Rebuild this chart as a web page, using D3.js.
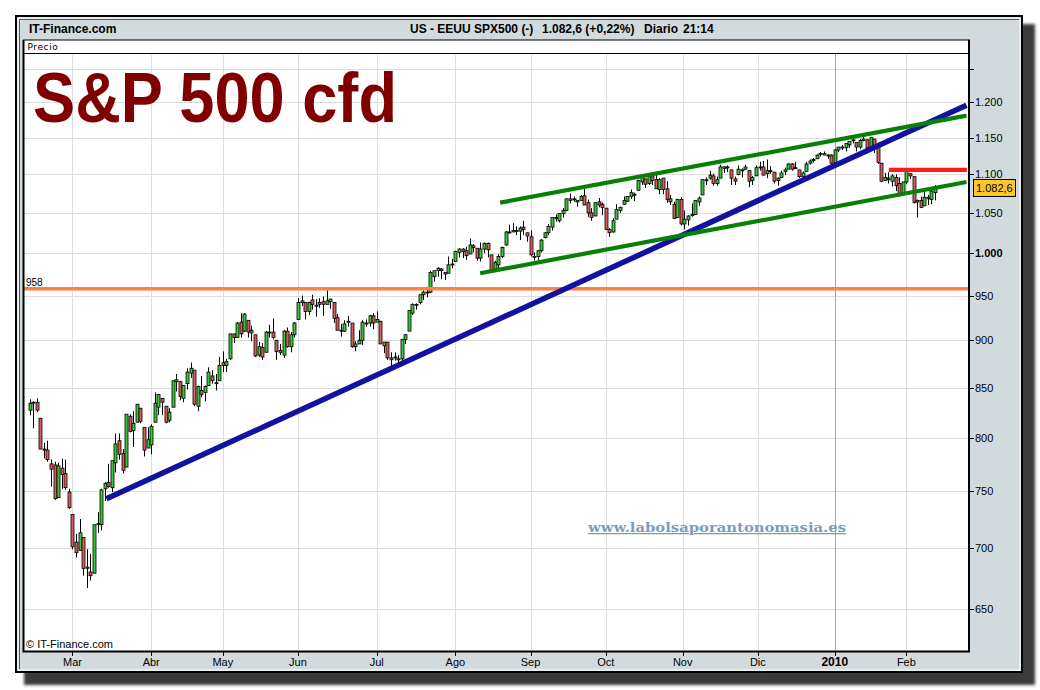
<!DOCTYPE html>
<html><head><meta charset="utf-8">
<script src="https://cdn.jsdelivr.net/npm/d3@7"></script>
<style>body{margin:0;background:#fff;}svg{display:block;font-family:Arial,"Liberation Sans",sans-serif;}</style>
</head><body>
<svg id="chart" width="1040" height="690"></svg>
<script>
// Daily candles, 11 Feb 2009 -> 12 Feb 2010 (one entry per trading bar)
const opens=[
827,834,835,819,789,788,775,774,744,771,766,749,
729,705,698,709,684,680,679,720,720,752,758,753,776,797,785,772,821,807,815,829,810,790,
793,815,830,839,831,817,830,856,856,839,854,865,868,831,847,845,852,862,854,857,876,
873,880,907,903,920,910,922,911,906,884,892,887,909,909,900,889,884,910,893,906,
923,942,942,932,945,938,940,943,940,943,942,925,911,910,920,919,893,896,900,919,919,927,
920,921,894,898,881,881,880,880,901,910,930,940,942,951,953,954,972,979,981,977,976,986,
990,1001,1005,1003,999,1009,1006,994,1005,1012,998,980,986,996,1010,1026,1026,1027,1027,1032,1025,
1020,996,996,1003,1019,1025,1032,1044,1040,1049,1053,1068,1067,1066,1066,1072,1063,1050,1046,1064,1061,
1056,1029,1026,1042,1053,1061,1065,1071,1074,1079,1090,1094,1088,1098,1093,1080,1095,1081,1068,1061,1044,1067,
1036,1041,1048,1048,1064,1073,1092,1095,1098,1088,1095,1108,1109,1106,1094,1100,1106,1107,1105,1092,
1098,1109,1110,1101,1105,1103,1092,1096,1104,1107,1114,1108,1106,1097,1104,1115,1119,1121,1128,1128,1125,1126,
1116,1133,1136,1136,1140,1146,1143,1137,1146,1147,1136,1148,1138,1115,1092,1095,1091,1096,1088,
1074,1090,1101,1097,1064,1066,1059,1070,1067,1076];
const highs=[
838,836,839,819,795,797,779,777,776,780,779,752,
729,712,725,709,699,695,720,731,752,758,775,778,804,804,789,823,823,826,833,829,810,810,
813,845,843,839,831,829,856,864,857,852,870,876,868,852,862,852,871,868,864,882,888,
880,907,907,920,930,930,922,916,906,898,897,910,917,924,900,896,911,914,909,920,
947,950,942,943,951,946,947,949,956,946,942,929,918,922,927,919,899,911,922,923,928,930,
932,921,898,898,887,887,884,901,907,933,941,941,951,956,960,979,979,983,982,977,996,993,
1003,1006,1006,1008,1018,1011,1006,1013,1013,1013,998,991,999,1008,1027,1035,1037,1033,1033,1040,1025,
1028,1001,1003,1017,1026,1036,1044,1048,1049,1056,1068,1075,1071,1066,1073,1081,1067,1056,1063,1069,1063,
1056,1031,1043,1061,1058,1071,1071,1080,1076,1093,1097,1094,1100,1099,1101,1095,1095,1091,1073,1064,1068,1070,
1053,1047,1062,1066,1071,1094,1096,1105,1101,1097,1113,1111,1112,1106,1097,1112,1108,1113,1105,1098,
1112,1117,1118,1120,1111,1103,1096,1105,1109,1115,1115,1117,1106,1104,1117,1120,1122,1127,1130,1131,1127,1127,
1134,1137,1140,1142,1145,1150,1143,1148,1151,1148,1151,1148,1142,1115,1102,1103,1100,1100,1096,
1090,1104,1102,1097,1067,1071,1080,1073,1081,1086];
const lows=[
822,809,825,789,780,777,754,742,744,752,751,734,
699,692,698,677,667,673,679,713,715,741,753,749,767,779,766,772,805,791,815,814,782,790,
784,815,822,822,814,815,830,846,837,835,848,860,831,826,840,836,852,854,847,857,866,
866,879,897,903,903,909,903,899,882,882,879,887,903,901,879,884,881,892,887,903,
923,938,923,928,934,926,936,927,940,935,919,911,904,909,915,892,888,896,895,915,915,912,
920,896,886,879,869,878,872,875,896,910,928,934,940,945,948,953,966,972,969,968,976,982,
990,995,994,992,999,1001,991,990,1000,995,978,980,981,994,1009,1024,1026,1022,1016,1022,1014,
996,991,991,1001,1018,1022,1028,1039,1038,1044,1052,1062,1064,1058,1066,1060,1045,1040,1046,1057,1047,
1029,1020,1025,1042,1050,1060,1064,1068,1065,1079,1086,1082,1086,1086,1081,1074,1074,1063,1060,1042,1044,1034,
1029,1034,1045,1048,1059,1073,1086,1093,1085,1085,1095,1102,1103,1086,1086,1099,1096,1106,1083,1086,
1098,1105,1099,1095,1101,1088,1085,1096,1099,1107,1105,1107,1095,1095,1104,1113,1116,1121,1124,1126,1121,1114,
1116,1130,1133,1131,1136,1142,1131,1134,1145,1130,1136,1129,1114,1090,1092,1088,1084,1078,1071,
1074,1087,1094,1062,1044,1056,1059,1060,1061,1066];
const closes=[
834,835,827,789,788,779,770,743,773,765,753,735,
701,696,713,683,683,677,720,721,751,757,754,778,794,784,769,823,806,814,833,816,788,798,
811,834,843,835,815,825,857,858,841,852,866,870,833,851,843,851,866,857,855,873,873,
877,907,903,919,907,929,909,908,883,893,882,909,908,903,888,887,910,893,906,919,
942,944,932,942,940,939,942,940,944,946,924,911,911,918,921,893,896,900,920,918,927,919,
923,896,898,881,879,882,879,901,906,933,940,940,951,954,954,977,979,982,979,975,986,987,
1002,1005,1002,997,1010,1007,994,1005,1012,1004,979,989,996,1007,1026,1025,1028,1028,1031,1029,1021,
998,995,1003,1016,1025,1033,1044,1043,1049,1053,1068,1066,1068,1064,1071,1060,1050,1044,1063,1060,1057,
1029,1025,1040,1054,1057,1066,1071,1076,1073,1092,1096,1087,1098,1092,1081,1093,1080,1067,1064,1043,1067,1036,
1042,1046,1047,1066,1069,1093,1093,1099,1088,1093,1110,1110,1110,1095,1091,1107,1105,1110,1091,1096,
1109,1110,1099,1105,1104,1091,1095,1102,1106,1114,1107,1109,1097,1102,1114,1118,1120,1126,1128,1126,1126,1115,
1133,1137,1137,1142,1145,1147,1137,1146,1148,1136,1150,1138,1116,1091,1096,1093,1098,1085,1074,
1090,1104,1098,1063,1066,1057,1070,1068,1078,1082.6];

const monthLabels=["Mar","Abr","May","Jun","Jul","Ago","Sep","Oct","Nov","Dic","2010","Feb"];
const monthTickIdx=[12,34,54,75,97,119,140,161,182.5,203.5,225,245];
const yTickValues=[1250,1200,1150,1100,1050,1000,950,900,850,800,750,700,650];
const supportLevel=958;
const blueTrend=[[21.5,743],[261.8,1196]];
const greenUpper=[[131.5,1063],[261.8,1181]];
const greenLower=[[125.9,976],[261.8,1090]];
const redLevel=[[240.1,1106],[261.9,1106]];
const lastPrice=1082.6;
const changeText="(+0,22%)";
const headerParts=["US - EEUU SPX500 (-)","Diario","21:14"];

const loc=d3.formatLocale({decimal:",",thousands:".",grouping:[3],currency:["",""]});
const fmtInt=loc.format(",");
const fmtPrice=loc.format(",.1f");

const svg=d3.select("#chart");
const defs=svg.append("defs");
defs.append("filter").attr("id","shadow").attr("x","-5%").attr("y","-5%").attr("width","110%").attr("height","110%")
  .append("feGaussianBlur").attr("stdDeviation",1.6);
defs.append("clipPath").attr("id","plotclip").append("rect").attr("x",24).attr("y",54).attr("width",944).attr("height",596);

// shadow + frame
svg.append("rect").attr("x",24).attr("y",24).attr("width",1011).attr("height",661).attr("fill","#3a3a3a").attr("filter","url(#shadow)");
svg.append("rect").attr("x",16).attr("y",16).attr("width",1006).attr("height",656).attr("fill","#d3dadd").attr("stroke","#000").attr("stroke-width",2);
svg.append("rect").attr("x",18).attr("y",18).attr("width",1002).attr("height",652).attr("fill","none").attr("stroke","#fff").attr("stroke-width",1);
svg.append("path").attr("d","M19.5,669 V19.5 H1019").attr("fill","none").attr("stroke","#555").attr("stroke-width",1);

// header
const hdr=svg.append("g").attr("font-weight","bold").attr("font-size",12).attr("fill","#000");
hdr.append("text").attr("x",29).attr("y",33).text("IT-Finance.com");
hdr.append("text").attr("x",410).attr("y",33).text(headerParts[0]);
hdr.append("text").attr("x",542).attr("y",33).text(fmtPrice(lastPrice)+" "+changeText);
hdr.append("text").attr("x",644).attr("y",33).text(headerParts[1]);
hdr.append("text").attr("x",683).attr("y",33).text(headerParts[2]);

// plot area
svg.append("rect").attr("x",23).attr("y",40).attr("width",946).attr("height",611).attr("fill","#fff");

const x=d3.scaleLinear().domain([0,closes.length-1]).range([29.5,935]);
const y=d3.scaleLog().domain([618,1274]).range([651,53]);

// grid
const grid=svg.append("g");
grid.selectAll("line.h").data(yTickValues).join("line")
  .attr("x1",23).attr("x2",969).attr("y1",d=>Math.round(y(d))+0.5).attr("y2",d=>Math.round(y(d))+0.5)
  .attr("stroke","#dcdcdc").attr("stroke-width",1);
grid.selectAll("line.v").data(monthTickIdx).join("line")
  .attr("x1",d=>Math.round(x(d))+0.5).attr("x2",d=>Math.round(x(d))+0.5).attr("y1",53).attr("y2",651)
  .attr("stroke",(d,i)=>monthLabels[i]==="2010"?"#a8a8a8":"#dcdcdc").attr("stroke-width",1);

svg.append("line").attr("x1",23).attr("x2",969).attr("y1",53.5).attr("y2",53.5).attr("stroke","#000");
svg.append("text").attr("x",27.5).attr("y",50).attr("font-size",9).attr("letter-spacing",0.6).attr("font-family","Verdana,'DejaVu Sans',sans-serif").text("Precio");

// watermark
svg.append("text").attr("x",588).attr("y",532).attr("font-family","'DejaVu Serif',serif").attr("font-weight","bold")
  .attr("font-size",13).attr("fill","#7d9bc0").attr("textLength",258).attr("lengthAdjust","spacingAndGlyphs")
  .attr("text-decoration","underline").text("www.labolsaporantonomasia.es");

// big title
svg.append("text").attr("x",33).attr("y",122).attr("font-size",70).attr("font-weight","bold").attr("fill","#800000")
  .attr("textLength",364).attr("lengthAdjust","spacingAndGlyphs").text("S&P 500 cfd");

const plot=svg.append("g").attr("clip-path","url(#plotclip)");

// candles
const idx=d3.range(closes.length);
const cg=plot.append("g");
cg.selectAll("line.w").data(idx).join("line")
  .attr("x1",i=>Math.round(x(i))+0.5).attr("x2",i=>Math.round(x(i))+0.5)
  .attr("y1",i=>y(highs[i])).attr("y2",i=>y(lows[i])).attr("stroke","#000").attr("stroke-width",1);
cg.selectAll("rect.b").data(idx).join("rect")
  .attr("x",i=>Math.round(x(i))-1)
  .attr("width",3)
  .attr("y",i=>y(Math.max(opens[i],closes[i])))
  .attr("height",i=>Math.max(1,Math.abs(y(opens[i])-y(closes[i]))))
  .attr("fill",i=>closes[i]>=opens[i]?"#38c838":"#d85c5c")
  .attr("stroke","#000").attr("stroke-width",0.8);

// lines
const lineGen=d3.line().x(d=>x(d[0])).y(d=>y(d[1]));
plot.append("line").attr("x1",23).attr("x2",969).attr("y1",y(supportLevel)).attr("y2",y(supportLevel))
  .attr("stroke","#ff8040").attr("stroke-width",3.5);
plot.append("path").datum(blueTrend).attr("d",lineGen).attr("stroke","#1212a0").attr("stroke-width",5.5).attr("fill","none");
plot.append("path").datum(greenUpper).attr("d",lineGen).attr("stroke","#088008").attr("stroke-width",4.2).attr("fill","none");
plot.append("path").datum(greenLower).attr("d",lineGen).attr("stroke","#088008").attr("stroke-width",4.2).attr("fill","none");
plot.append("path").datum(redLevel).attr("d",lineGen).attr("stroke","#ff1a1a").attr("stroke-width",4.2).attr("fill","none");
svg.append("text").attr("x",26).attr("y",286).attr("font-size",10).text(fmtInt(supportLevel));

svg.append("text").attr("x",26).attr("y",648).attr("font-size",11).text("\u00A9 IT-Finance.com");

// plot borders
svg.append("path").attr("d","M23.5,40 V651.5 H969 V40").attr("fill","none").attr("stroke","#000").attr("stroke-width",2);
svg.append("line").attr("x1",23).attr("x2",970).attr("y1",40).attr("y2",40).attr("stroke","#000").attr("stroke-width",1.2);

// y axis (right)
const ya=svg.append("g");
ya.selectAll("line").data(yTickValues).join("line")
  .attr("x1",969).attr("x2",974).attr("y1",d=>Math.round(y(d))+0.5).attr("y2",d=>Math.round(y(d))+0.5).attr("stroke","#000");
ya.selectAll("text").data(yTickValues.filter(v=>v<=1200)).join("text")
  .attr("x",975).attr("y",d=>y(d)+4).attr("font-size",11)
  .attr("font-weight",d=>d===1000?"bold":"normal").text(d=>fmtInt(d));

// x axis (bottom)
const xa=svg.append("g");
xa.selectAll("line").data(monthTickIdx).join("line")
  .attr("x1",d=>Math.round(x(d))+0.5).attr("x2",d=>Math.round(x(d))+0.5).attr("y1",651).attr("y2",656).attr("stroke","#000");
xa.selectAll("text").data(monthTickIdx).join("text")
  .attr("x",d=>x(d)).attr("y",666).attr("text-anchor","middle")
  .attr("font-size",(d,i)=>monthLabels[i]==="2010"?12:11)
  .attr("font-weight",(d,i)=>monthLabels[i]==="2010"?"bold":"normal")
  .text((d,i)=>monthLabels[i]);

// last price label
const yl=y(lastPrice);
svg.append("rect").attr("x",973.5).attr("y",Math.round(yl)-8.5).attr("width",42).attr("height",17)
  .attr("fill","#ffc62a").attr("stroke","#000").attr("stroke-width",1);
svg.append("text").attr("x",976).attr("y",yl+4).attr("font-size",11).text(fmtPrice(lastPrice));
</script>
</body></html>
